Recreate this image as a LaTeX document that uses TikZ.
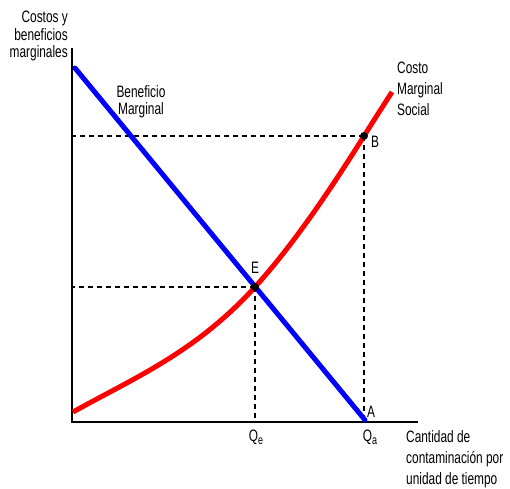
\documentclass[tikz,border=0pt]{standalone}
\usepackage{fontspec}
\setmainfont{Liberation Sans}[FakeStretch=0.72]
\begin{document}
\begin{tikzpicture}[x=1pt,y=-1pt,
  lbl/.style={inner sep=0pt,font=\fontsize{16.5}{17.5}\selectfont},
  lblwide/.style={inner sep=0pt,font=\fontsize{16.5}{21}\selectfont},
  axis/.style={line width=1.6pt,black},
  guide/.style={line width=1.2pt,black,dash pattern=on 5pt off 4pt},
  costcurve/.style={line width=5pt,red},
  benefit/.style={line width=5pt,blue,line cap=round},
  pt/.style={circle,fill=black,inner sep=0pt,minimum size=8pt}]
\useasboundingbox (0,0) rectangle (510,488);
% axes
\coordinate (O) at (72,422);
\coordinate (Ytop) at (72,48);
\coordinate (Xend) at (418,422);
\draw[axis] (Ytop) -- (O) -- (Xend);
% points
\coordinate (Epos) at (255,287);
\coordinate (Bpos) at (364,136);
% guides
\draw[guide] (Bpos) -- (Bpos -| O);
\draw[guide] (Bpos) -- (Bpos |- O);
\draw[guide] (Epos) -- (Epos -| O);
\draw[guide] (Epos) -- (Epos |- O);
% curves
\coordinate (Cstart) at (73,412);
\coordinate (Cend) at (392,92);
\draw[costcurve] (Cstart) .. controls (133,378.4) and (195,353) .. (Epos)
  .. controls (291,247.4) and (328,193.6) .. (Bpos)
  .. controls (373,121.6) and (383,106) .. (Cend);
\coordinate (Bstart) at (75,68);
\coordinate (Bend) at (365,420);
\draw[benefit] (Bstart) -- (Bend);
\node[pt] (E) at (Epos) {};
\node[pt] (B) at (Bpos) {};
% labels
\node[lbl,anchor=north east,align=right] (ylab) at (68,11) {Costos y\\beneficios\\marginales};
\node[lbl,anchor=north,align=center] (bmlab) at (141,85) {Beneficio\\Marginal};
\node[lblwide,anchor=north west,align=left] (cmslab) at (397,62) {Costo\\Marginal\\Social};
\node[lblwide,anchor=north west,align=left] (xlab) at (406,430) {Cantidad de\\contaminación por\\unidad de tiempo};
\node[lbl,anchor=base west] (Blab) at (371,147) {B};
\node[lbl,anchor=base] (Elab) at (255,273) {E};
\node[lbl,anchor=base west] (Alab) at (367,417) {A};
\node[lbl,anchor=base] (Qe) at (256,441) {Q\raisebox{-3pt}{\fontsize{12.5}{12.5}\selectfont e}};
\node[lbl,anchor=base] (Qa) at (370,441) {Q\raisebox{-3pt}{\fontsize{12.5}{12.5}\selectfont a}};
\end{tikzpicture}
\end{document}
